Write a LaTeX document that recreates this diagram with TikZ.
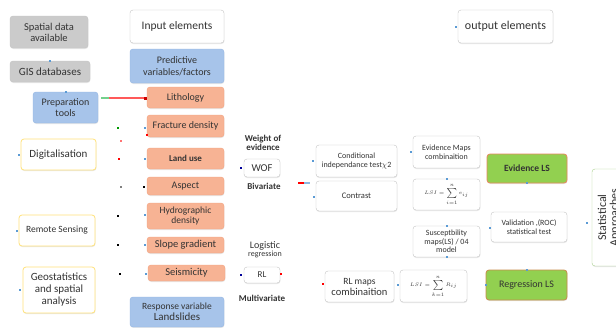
\documentclass[tikz,border=0pt]{standalone}
\usepackage{fontspec}
\setmainfont{Carlito}
\usetikzlibrary{shadows}
\definecolor{txt}{HTML}{333333}
\definecolor{grayfill}{HTML}{CBCBCB}
\definecolor{grayline}{HTML}{C4C4C4}
\definecolor{bluefill}{HTML}{A7C4EA}
\definecolor{blueline}{HTML}{93B6E4}
\definecolor{salfill}{HTML}{F7B394}
\definecolor{salline}{HTML}{F3A27F}
\definecolor{yelline}{HTML}{FFE27A}
\definecolor{greenfill}{HTML}{92D050}
\definecolor{evborder}{HTML}{E8875E}
\definecolor{regborder}{HTML}{C98B4B}
\definecolor{statline}{HTML}{A9D18E}
\definecolor{dotblue}{HTML}{5B9BD5}
\definecolor{connred}{rgb}{1,0.35,0.35}
\definecolor{conngreen}{rgb}{0.45,0.82,0.55}
\begin{document}
\begin{tikzpicture}[x=1pt,y=-1pt,
  base/.style={rounded corners=3pt, draw, inner sep=1pt, align=center, text=txt,
    font=\fontsize{10}{11}\selectfont,
    drop shadow={opacity=0.18, shadow xshift=0.4pt, shadow yshift=-1pt}},
  graybox/.style={base, fill=grayfill, draw=grayline},
  bluebox/.style={base, fill=bluefill, draw=blueline},
  salbox/.style={base, fill=salfill, draw=salline},
  whitebox/.style={base, fill=white, draw=grayline},
  yelbox/.style={base, fill=white, draw=yelline, line width=0.8pt},
  greenbox/.style={base, fill=greenfill, line width=0.8pt, font=\fontsize{9.5}{10}\selectfont\bfseries},
  dot/.style={inner sep=0pt, minimum size=2pt, fill=dotblue},
  lbl/.style={inner sep=0pt, align=center, text=txt},
  wh/.style 2 args={minimum width=#1pt, minimum height=#2pt},
  conn/.style={line width=1.6pt, line cap=butt},
]
\clip (0,0) rectangle (616,327);
\fill[white] (0,0) rectangle (616,327);

% left column
\node[graybox, wh={78}{32}, font=\fontsize{10.5}{11}\selectfont] (spatial) at (49,32) {Spatial data\\available};
\node[graybox, wh={80}{21}, font=\fontsize{11}{12}\selectfont] (gis) at (50,71.5) {GIS databases};
\node[bluebox, wh={65}{31}] (prep) at (65.5,107.5) {Preparation\\tools};
\node[yelbox, wh={75}{31}, font=\fontsize{11}{12}\selectfont] (digit) at (58.5,154.5) {Digitalisation};
\node[yelbox, wh={76}{31}, font=\fontsize{9.5}{10}\selectfont] (remote) at (57,230.5) {Remote Sensing};
\node[yelbox, wh={72}{46}, font=\fontsize{11}{12}\selectfont] (geo) at (59,290) {Geostatistics\\and spatial\\analysis};

% input column
\node[whitebox, wh={94}{33}, font=\fontsize{11.5}{12}\selectfont] (input) at (177,26.5) {Input elements};
\node[bluebox, wh={94}{34}, font=\fontsize{10}{12}\selectfont] (pred) at (177,66) {Predictive\\variables/factors};
\node[salbox, wh={77}{21}] (lith) at (185.5,97.5) {Lithology};
\node[salbox, wh={77}{22}] (frac) at (185.5,126) {Fracture density};
\node[salbox, wh={77}{21}, font=\fontsize{9}{10}\selectfont\bfseries] (land) at (185.5,158.5) {Land use};
\node[salbox, wh={77}{18}] (aspect) at (185.5,186) {Aspect};
\node[salbox, wh={77}{26}, font=\fontsize{9.5}{10.5}\selectfont] (hydro) at (185.5,216) {Hydrographic\\density};
\node[salbox, wh={77}{16}, font=\fontsize{10.5}{11}\selectfont] (slope) at (185.5,245) {Slope gradient};
\node[salbox, wh={77}{16}, font=\fontsize{10.5}{11}\selectfont] (seis) at (186.5,273) {Seismicity};
\node[bluebox, wh={94}{30}, font=\fontsize{9.5}{11}\selectfont] (resp) at (177,312) {Response variable\\{\fontsize{11}{11}\selectfont Landslides}};

% method labels
\node[lbl, font=\fontsize{9}{9.5}\selectfont\bfseries] (woe) at (263,143) {Weight of\\evidence};
\node[whitebox, wh={36}{18}, font=\fontsize{10.5}{11}\selectfont] (wof) at (262,168) {WOF};
\node[lbl, font=\fontsize{9}{10}\selectfont\bfseries] (biv) at (264,186) {Bivariate};
\node[lbl, font=\fontsize{10}{8}\selectfont] (logit) at (265,250) {Logistic\\{\fontsize{8}{8}\selectfont regression}};
\node[whitebox, wh={36}{16}, font=\fontsize{9}{10}\selectfont] (rl) at (262,275) {RL};
\node[lbl, font=\fontsize{9}{10}\selectfont\bfseries] (multi) at (262,298) {Multivariate};

% middle boxes
\node[whitebox, wh={81}{32}, font=\fontsize{8}{9.5}\selectfont] (cond) at (356.5,161) {Conditional\\independance test$\chi$2};
\node[whitebox, wh={81}{30}, font=\fontsize{8.5}{9}\selectfont] (contrast) at (356.5,196) {Contrast};
\node[whitebox, wh={69}{31}, font=\fontsize{10.5}{11}\selectfont] (rlmaps) at (359.5,286.5) {{\fontsize{9.5}{10}\selectfont RL maps}\\combinaition};
\node[whitebox, wh={67}{32}, font=\fontsize{5.5}{6}\selectfont] (form2) at (433.5,286) {$LSI=\sum\limits_{k=1}^{n} R_{ij}$};
\node[whitebox, wh={67}{32}, font=\fontsize{8}{9}\selectfont] (evmaps) at (446.5,152) {Evidence Maps\\combinaition};
\node[whitebox, wh={67}{31}, font=\fontsize{5.5}{6}\selectfont] (form1) at (446.5,194.5) {$LSI=\sum\limits_{i=1}^{n} e_{ij}$};
\node[whitebox, wh={67}{31}, font=\fontsize{8}{8.5}\selectfont] (susc) at (446.5,241.5) {Susceptbility\\maps(LS) / 04\\model};

% right
\node[whitebox, wh={95}{33}, font=\fontsize{12}{13}\selectfont] (output) at (505.5,26.5) {output elements};
\node[greenbox, draw=evborder, wh={80}{29}] (evls) at (527,168.5) {Evidence LS};
\node[whitebox, wh={76}{30}, font=\fontsize{8}{9}\selectfont] (valid) at (529,227) {Validation ,(ROC)\\statistical test};
\node[greenbox, draw=regborder, wh={81}{30}, font=\fontsize{10}{11}\selectfont] (regls) at (526.5,285) {Regression LS};
\node[base, fill=white, draw=statline, minimum width=97pt, minimum height=34pt, rotate=90, font=\fontsize{12}{12}\selectfont] (stat) at (609,217.5) {Statistical\\Approaches};

% connectors
\coordinate (pstart) at (101,98);
\coordinate (pmid) at (109,98);
\coordinate (lithin) at (lith.west |- pstart);
\draw[conn, draw=connred] (pmid) -- (lithin);
\draw[conn, draw=conngreen] (pstart) -- (pmid);
\fill[red!80!black] ([xshift=-2.5pt,yshift=-1.5pt]lithin) rectangle ([xshift=0.5pt,yshift=1.5pt]lithin);
\coordinate (cA) at (298,183);
\coordinate (cB) at (304,183);
\coordinate (cC) at (310,183);
\draw[conn, draw=red] (cA) -- (cB);
\draw[conn, draw=dotblue!70] (cB) -- (cC);

% small connector ends
\node[dot] at (gis.north) {};
\node[dot] at (prep.north) {};
\node[dot] at ([xshift=-2pt]digit.west) {};
\node[dot] at ([xshift=-2pt]remote.west) {};
\node[dot] at ([xshift=-3pt]geo.west) {};
\node[dot] at ([xshift=-2pt]output.west) {};
\node[dot, fill=green!60!black] at (118,128) {};
\node[dot] at (145,128) {};
\node[dot, fill=red] at (147,135) {};
\node[dot, fill=red!40!pink] at (121,141) {};
\node[dot, fill=red] at (119,159) {};
\node[dot] at (145,159) {};
\node[dot, fill=gray] at (121,187) {};
\node[dot, fill=black] at (144,187) {};
\node[dot, fill=black] at (118,216) {};
\node[dot] at (145,215) {};
\node[dot, fill=black] at (118,245) {};
\node[dot] at (145,245) {};
\node[dot, fill=black] at (120,274) {};
\node[dot] at (146,274) {};
\node[dot, fill=blue!60!black] at (241,168) {};
\node[dot, fill=blue!60!black] at (241,275) {};
\node[dot, fill=red] at (281,274) {};
\node[dot] at (313,161) {};
\node[dot] at (314,197) {};
\node[dot, fill=red] at (323,284) {};
\node[dot] at (398,285) {};
\node[dot] at (411,152) {};
\node[dot] at (form1.north) {};
\node[dot] at (susc.north) {};
\node[dot] at (susc.south) {};
\node[dot] at (evls.south) {};
\node[dot] at (490,228) {};
\node[dot] at (regls.north) {};
\node[dot] at (regls.west) {};
\node[dot] at (587,223) {};
\end{tikzpicture}
\end{document}
